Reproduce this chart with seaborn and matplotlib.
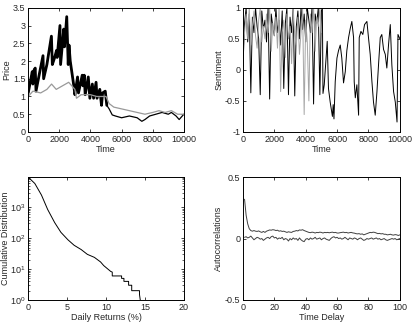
import numpy as np
import pandas as pd
import matplotlib
matplotlib.use('Agg')
import matplotlib.pyplot as plt
import seaborn as sns
from matplotlib.ticker import FuncFormatter, LogLocator

# price paths (time, value)
price_t = [0, 150, 260, 300, 380, 450, 500, 700, 950, 990, 1200, 1490, 1550, 1700, 1820,
           1860, 2040, 2080, 2280, 2330, 2475, 2570, 2620, 2700, 2930, 3000, 3170, 3230,
           3470, 3520, 3600, 3660, 3860, 3960, 4120, 4200, 4360, 4420, 4600, 4710, 4780,
           4950, 5050, 5200, 5400, 5600, 6000, 6500, 7000, 7300, 7500, 7800, 8200, 8600,
           9000, 9200, 9500, 9700, 10000]
price_agent = [1.1, 1.45, 1.7, 1.35, 1.75, 1.8, 1.15, 1.6, 2.15, 1.5, 1.9, 2.7, 1.9, 2.1, 2.3,
               2.1, 3.0, 1.9, 2.9, 2.4, 3.25, 1.9, 2.45, 2.0, 1.3, 1.05, 1.55, 1.1,
               1.6, 1.3, 1.6, 1.05, 1.55, 0.95, 1.35, 0.95, 1.4, 0.95, 1.2, 0.75, 1.1,
               1.15, 0.75, 0.65, 0.48, 0.45, 0.4, 0.45, 0.4, 0.3, 0.35, 0.45, 0.5, 0.55,
               0.5, 0.55, 0.45, 0.35, 0.5]
fund_t = [0, 300, 800, 1200, 1500, 1800, 2200, 2600, 2800, 3000, 3100, 3400, 4000, 4400,
          5000, 5200, 5500, 6000, 6500, 7000, 7500, 8000, 8400, 8800, 9200, 9600, 10000]
price_fund = [1.0, 1.15, 1.1, 1.2, 1.35, 1.2, 1.3, 1.4, 1.3, 1.2, 0.95, 1.05, 1.05, 1.0,
              1.0, 0.8, 0.7, 0.65, 0.6, 0.55, 0.5, 0.55, 0.6, 0.55, 0.6, 0.5, 0.5]

# sentiment, first half every 100 steps
sent_t1 = list(range(0, 5100, 100))
sent_black1 = [0.05, 0.75, 1.0, 0.45, 0.9, -0.37, 0.85, 0.6, 1.0, 0.7, 0.5, -0.4, 0.95, 0.65,
               0.8, 0.45, 1.0, -0.47, 0.9, 0.7, 0.55, 1.0, 0.6, 0.8, 0.4, 0.95, -0.3, 0.75,
               1.0, -0.4, 0.85, 0.6, 1.0, -0.42, 0.7, 0.95, 0.5, 1.0, 0.65, 0.9, 0.45, 1.0,
               0.8, 0.6, 1.0, -0.55, 0.9, 0.75, 1.0, -0.4, 0.95]
sent_gray1 = [0.3, 0.6, 0.9, 0.5, 1.0, 0.4, 0.7, 0.95, 0.55, 0.35, 0.8, 1.0, 0.45, 0.7, 0.5,
              0.9, 0.6, 1.0, 0.3, 0.75, 0.55, 0.85, 0.35, 1.0, -0.35, 0.6, 0.8, 0.2, 0.9,
              0.5, 0.7, 0.1, 1.0, 0.55, 0.4, 0.85, 0.25, 0.6, 1.0, -0.72, 0.8, 0.45, -0.5,
              0.9, 0.6, 1.0, 0.3, 0.85, 0.7, 1.0, 0.6]
sent_t2 = [5000, 5060, 5100, 5180, 5370, 5450, 5560, 5700, 5750, 5800, 5880, 5990, 6090,
           6200, 6300, 6410, 6520, 6620, 6730, 6840, 6940, 7050, 7090, 7160, 7260, 7370,
           7410, 7520, 7640, 7750, 7900, 8000, 8110, 8220, 8320, 8430, 8540, 8640, 8750,
           8850, 8960, 9070, 9170, 9280, 9390, 9490, 9600, 9710, 9820, 9880, 10000]
sent_black2 = [0.95, 1.0, -0.38, -0.24, 0.46, -0.3, -0.52, -0.75, -0.56, -0.79, -0.19, 0.19,
               0.31, 0.4, 0.19, -0.21, -0.03, 0.31, 0.52, 0.67, 0.78, 0.52, -0.19, -0.45,
               -0.24, -0.73, 0.52, 0.62, 0.57, 0.73, 0.78, 0.52, 0.25, -0.19, -0.52, -0.73,
               -0.35, 0.08, 0.52, 0.57, 0.33, 0.25, 0.03, 0.41, 0.73, 0.08, -0.35, -0.52,
               -0.84, 0.57, 0.5]

# cumulative distribution of daily returns
ret_pct = [0, 0.85, 1.7, 2.5, 3.4, 4.2, 5.1, 5.9, 6.8, 7.6, 8.5, 9.3, 9.7, 10.1, 10.6,
           10.8, 10.8, 11.8, 12.0, 12.0, 12.3, 12.3, 12.9, 12.9, 13.3, 13.3, 14.3, 14.3, 14.4]
cum_count = [9500, 5900, 2500, 850, 320, 155, 89, 59, 43, 30, 24, 17, 13, 10.7, 8.4,
             8, 6, 6, 6, 5, 5, 4, 4, 3, 3, 2, 2, 1.5, 1]

# autocorrelations
lags = list(range(1, 101))
acf_abs = [0.32, 0.19, 0.12, 0.08, 0.065, 0.06, 0.065, 0.06, 0.058, 0.062,
           0.055, 0.05, 0.058, 0.05, 0.06, 0.065, 0.07, 0.068, 0.072, 0.07,
           0.065, 0.068, 0.06, 0.063, 0.058, 0.06, 0.055, 0.05, 0.055, 0.052,
           0.05, 0.058, 0.06, 0.065, 0.062, 0.07, 0.068, 0.072, 0.065, 0.06,
           0.055, 0.05, 0.048, 0.052, 0.05, 0.045, 0.05, 0.048, 0.052, 0.05,
           0.045, 0.05, 0.048, 0.05, 0.047, 0.05, 0.052, 0.048, 0.05, 0.045,
           0.045, 0.048, 0.05, 0.052, 0.048, 0.05, 0.045, 0.048, 0.05, 0.046,
           0.044, 0.04, 0.038, 0.04, 0.035, 0.038, 0.03, 0.035, 0.04, 0.045,
           0.05, 0.048, 0.052, 0.05, 0.045, 0.04, 0.042, 0.038, 0.04, 0.035,
           0.035, 0.03, 0.032, 0.035, 0.03, 0.028, 0.032, 0.03, 0.025, 0.03]
acf_raw = [0.01, 0.015, 0.005, 0.01, 0.02, 0.005, -0.01, 0.0, 0.01, 0.005,
           -0.005, 0.0, -0.015, -0.005, 0.005, 0.01, 0.0, 0.015, 0.02, 0.005,
           0.01, -0.005, 0.005, 0.0, 0.01, -0.01, 0.0, -0.005, -0.02, 0.0,
           -0.01, 0.005, -0.005, 0.0, -0.015, 0.005, -0.01, -0.02, -0.025, -0.005,
           0.0, -0.01, 0.005, -0.005, 0.0, 0.01, -0.005, 0.0, 0.005, -0.01,
           0.0, 0.005, -0.005, -0.01, -0.015, 0.0, 0.01, 0.015, 0.005, 0.01,
           0.0, 0.005, -0.005, 0.0, 0.01, 0.0, -0.01, 0.005, 0.0, -0.005,
           0.005, 0.0, -0.01, 0.0, 0.005, -0.005, -0.015, -0.01, 0.0, -0.005,
           0.0, 0.005, -0.005, 0.0, 0.005, -0.005, 0.0, -0.01, -0.005, 0.0,
           -0.01, -0.015, -0.01, -0.005, 0.0, -0.005, 0.0, -0.01, -0.005, 0.0]

sns.set_style('ticks', {'xtick.direction': 'in', 'ytick.direction': 'in'})
plt.rcParams['font.family'] = ['Liberation Sans', 'DejaVu Sans']
plt.rcParams['font.size'] = 6.5
plt.rcParams['axes.linewidth'] = 0.7
plt.rcParams['axes.edgecolor'] = 'black'

fig = plt.figure(figsize=(4.15, 3.25), dpi=100)
ax1 = fig.add_axes([0.068, 0.594, 0.375, 0.382])
ax2 = fig.add_axes([0.5855, 0.594, 0.378, 0.382])
ax3 = fig.add_axes([0.068, 0.077, 0.375, 0.378])
ax4 = fig.add_axes([0.5855, 0.077, 0.378, 0.378])

fmt = FuncFormatter(lambda v, p: '%g' % v)


def line(ax, x, y, color, lw):
    sns.lineplot(x=x, y=y, ax=ax, color=color, lw=lw, estimator=None, sort=False)


# price
first = [i for i, t in enumerate(price_t) if t <= 5050]
line(ax1, price_t, price_agent, 'black', 0.9)
line(ax1, [price_t[i] for i in first], [price_agent[i] for i in first], 'black', 2.0)
line(ax1, fund_t, price_fund, '0.6', 0.9)
ax1.set_xlim(0, 10000)
ax1.set_ylim(0, 3.5)
ax1.set_xticks([0, 2000, 4000, 6000, 8000, 10000])
ax1.set_yticks([0, 0.5, 1, 1.5, 2, 2.5, 3, 3.5])
ax1.yaxis.set_major_formatter(fmt)
ax1.set_xlabel('Time', labelpad=1)
ax1.set_ylabel('Price', labelpad=1)

# sentiment
line(ax2, sent_t1, sent_black1, 'black', 0.7)
line(ax2, sent_t1, sent_gray1, '0.65', 0.7)
line(ax2, sent_t2, sent_black2, 'black', 0.7)
ax2.set_xlim(0, 10000)
ax2.set_ylim(-1, 1)
ax2.set_xticks([0, 2000, 4000, 6000, 8000, 10000])
ax2.set_yticks([-1, -0.5, 0, 0.5, 1])
ax2.yaxis.set_major_formatter(fmt)
ax2.set_xlabel('Time', labelpad=1)
ax2.set_ylabel('Sentiment', labelpad=1)

# cumulative distribution
line(ax3, ret_pct, cum_count, 'black', 0.7)
ax3.set_yscale('log')
ax3.set_xlim(0, 20)
ax3.set_ylim(1, 9500)
ax3.set_xticks([0, 5, 10, 15, 20])
ax3.yaxis.set_major_locator(LogLocator(base=10, numticks=10))
ax3.set_xlabel('Daily Returns (%)', labelpad=1)
ax3.set_ylabel('Cumulative Distribution', labelpad=0)

# autocorrelations
line(ax4, lags, acf_abs, '0.25', 0.7)
line(ax4, lags, acf_raw, '0.25', 0.7)
ax4.set_xlim(0, 100)
ax4.set_ylim(-0.5, 0.5)
ax4.set_xticks([0, 20, 40, 60, 80, 100])
ax4.set_yticks([-0.5, 0, 0.5])
ax4.yaxis.set_major_formatter(fmt)
ax4.set_xlabel('Time Delay', labelpad=1)
ax4.set_ylabel('Autocorrelations', labelpad=1)

for ax in (ax1, ax2, ax3, ax4):
    ax.tick_params(which='both', top=True, right=True, direction='in', labelsize=6.5, pad=2)
    ax.tick_params(which='major', length=2.5, width=0.6)
    ax.tick_params(which='minor', length=1.5, width=0.5)
    for s in ax.spines.values():
        s.set_visible(True)

fig.savefig('out.png', dpi=100)
